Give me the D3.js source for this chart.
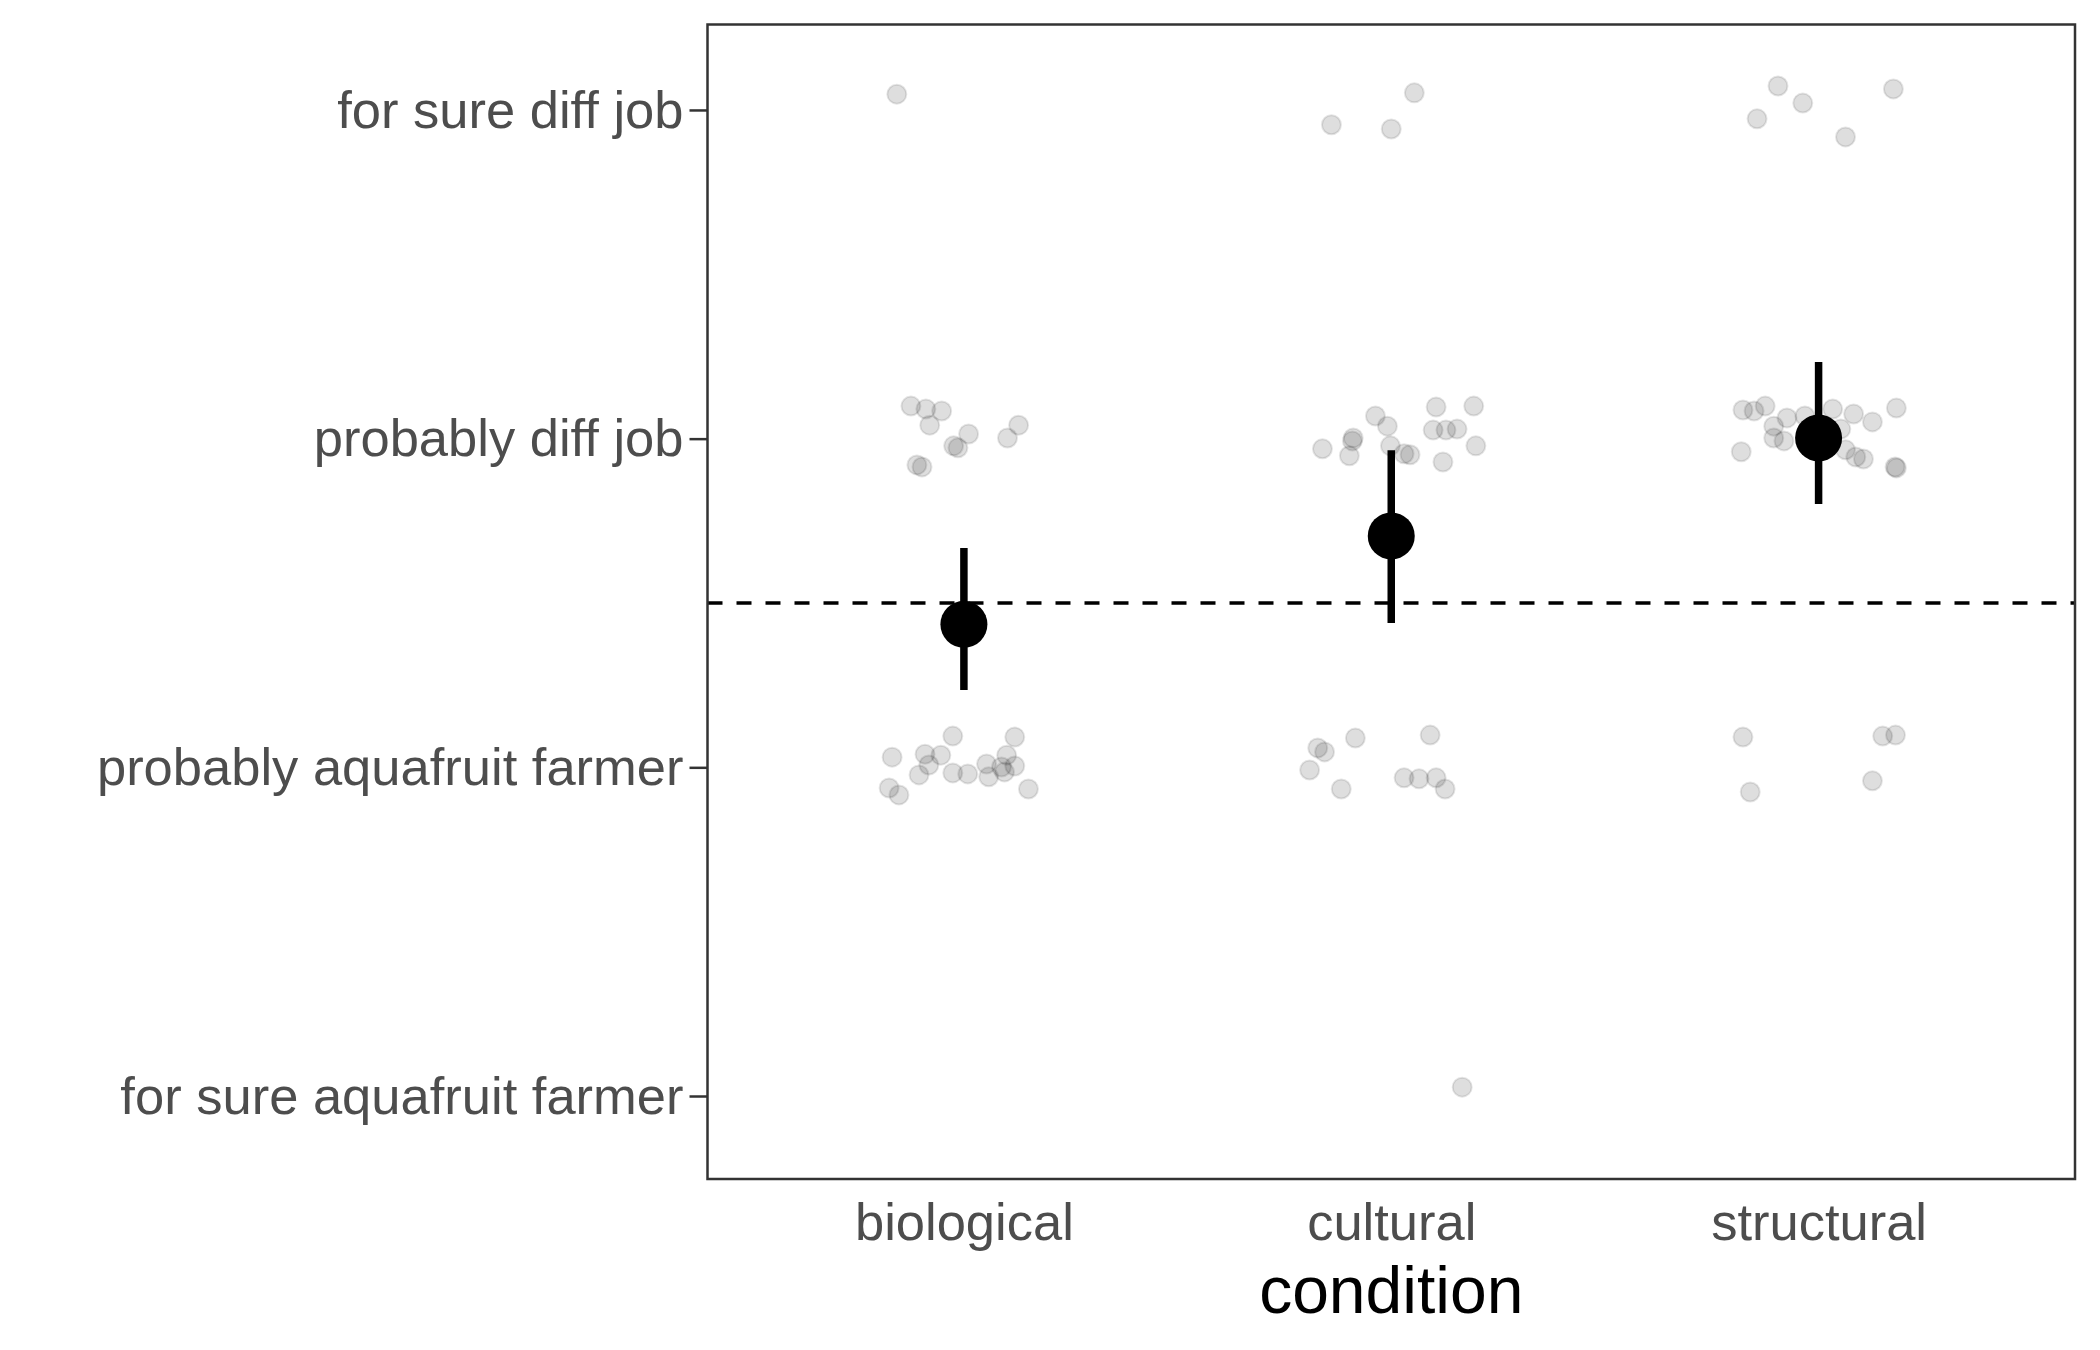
<!DOCTYPE html>
<html lang="en">
<head>
<meta charset="utf-8">
<script src="https://cdn.jsdelivr.net/npm/d3@7"></script>
<style type="text/css">
body {
	margin: 0;
	background: white;
}
text {
	font-family: "Liberation Sans", Arial, sans-serif;
}
</style>
</head>
<body>
<script type="text/javascript">

// categories on x, answer levels on y (1 = bottom)
var conditions = ["biological", "cultural", "structural"];
var levelLabels = ["for sure aquafruit farmer", "probably aquafruit farmer", "probably diff job", "for sure diff job"];
var levelValues = [1, 2, 3, 4];

// mean and interval per condition
var meanValues = [2.435, 2.704, 3.002];
var ciLow = [2.235, 2.439, 2.801];
var ciHigh = [2.667, 2.965, 3.233];
var chanceLevel = 2.5;

// jittered raw answers: [x offset in steps, value]
var bioPoints = [
	[-0.157, 4.048],
	[-0.124, 3.099], [-0.089, 3.090], [-0.052, 3.084], [-0.080, 3.041], [0.011, 3.014], [-0.024, 2.978],
	[-0.014, 2.972], [0.128, 3.041], [0.102, 3.002], [-0.110, 2.920], [-0.098, 2.914],
	[-0.168, 2.031], [-0.091, 2.040], [-0.054, 2.037], [-0.026, 2.095], [-0.082, 2.007], [-0.105, 1.977],
	[-0.175, 1.937], [-0.152, 1.916], [-0.026, 1.983], [0.009, 1.980], [0.053, 2.010], [0.058, 1.971],
	[0.100, 2.037], [0.119, 2.092], [0.088, 2.001], [0.095, 1.986], [0.119, 2.004], [0.151, 1.934]
];
var culturalPoints = [
	[-0.140, 3.955], [0.000, 3.942], [0.054, 4.052],
	[-0.161, 2.969], [-0.098, 2.948], [-0.089, 3.002], [-0.091, 2.993], [-0.037, 3.069], [-0.009, 3.038],
	[-0.002, 2.978], [0.030, 2.954], [0.044, 2.951], [0.105, 3.096], [0.193, 3.099], [0.098, 3.026],
	[0.128, 3.026], [0.154, 3.029], [0.198, 2.978], [0.121, 2.929],
	[-0.172, 2.059], [-0.156, 2.047], [-0.191, 1.992], [-0.084, 2.089], [-0.117, 1.934], [0.091, 2.098],
	[0.030, 1.968], [0.065, 1.965], [0.105, 1.968], [0.126, 1.934],
	[0.166, 1.027]
];
var structuralPoints = [
	[-0.095, 4.073], [-0.037, 4.021], [-0.144, 3.973], [0.063, 3.918], [0.175, 4.064],
	[-0.177, 3.087], [-0.151, 3.084], [-0.125, 3.099], [-0.105, 3.038], [-0.074, 3.063], [-0.032, 3.069],
	[-0.105, 3.002], [-0.081, 2.993], [-0.181, 2.960], [0.033, 3.090], [0.052, 3.029], [0.082, 3.075],
	[0.126, 3.051], [0.182, 3.093], [0.063, 2.966], [0.087, 2.944], [0.105, 2.938], [0.179, 2.914],
	[0.182, 2.911],
	[-0.177, 2.092], [-0.160, 1.925], [0.150, 2.095], [0.180, 2.098], [0.126, 1.959]
];

var width = 2100;
var height = 1350;
var panel = {left: 707.5, right: 2075, top: 24.5, bottom: 1179};

var svg = d3.select("body")
	.append("svg")
	.attr("width", width)
	.attr("height", height);

var x = d3.scalePoint()
	.domain(conditions)
	.range([panel.left, panel.right])
	.padding(0.6);

var y = d3.scaleLinear()
	.domain([0.7475, 4.26])
	.range([panel.bottom, panel.top]);

// raw points, one group per condition
var allPoints = [];
[bioPoints, culturalPoints, structuralPoints].forEach(function(pts, i) {
	pts.forEach(function(p) {
		allPoints.push({cond: conditions[i], dx: p[0], v: p[1]});
	});
});

svg.append("g")
	.selectAll("circle")
	.data(allPoints)
	.enter()
	.append("circle")
	.attr("cx", d => x(d.cond) + d.dx * x.step())
	.attr("cy", d => y(d.v))
	.attr("r", 9.5)
	.style("fill", "black")
	.style("fill-opacity", 0.13)
	.style("stroke", "black")
	.style("stroke-opacity", 0.1)
	.style("stroke-width", 2);

// chance line
svg.append("line")
	.attr("x1", panel.left)
	.attr("x2", panel.right)
	.attr("y1", y(chanceLevel))
	.attr("y2", y(chanceLevel))
	.style("stroke", "black")
	.style("stroke-width", 3.5)
	.style("stroke-dasharray", "15,14");

// error bars + means
var summary = conditions.map(function(c, i) {
	return {cond: c, mean: meanValues[i], lo: ciLow[i], hi: ciHigh[i]};
});

svg.append("g")
	.selectAll("line")
	.data(summary)
	.enter()
	.append("line")
	.attr("x1", d => x(d.cond))
	.attr("x2", d => x(d.cond))
	.attr("y1", d => y(d.lo))
	.attr("y2", d => y(d.hi))
	.style("stroke", "black")
	.style("stroke-width", 7.5);

svg.append("g")
	.selectAll("circle")
	.data(summary)
	.enter()
	.append("circle")
	.attr("cx", d => x(d.cond))
	.attr("cy", d => y(d.mean))
	.attr("r", 23.5)
	.style("fill", "black");

// y axis
var yAxis = svg.append("g")
	.attr("transform", "translate(" + panel.left + ",0)")
	.call(d3.axisLeft(y)
		.tickValues(levelValues)
		.tickFormat((d, i) => levelLabels[i])
		.tickSize(18)
		.tickPadding(6));
yAxis.select(".domain").remove();
yAxis.selectAll("line").style("stroke", "#333333").style("stroke-width", 2.5);
yAxis.selectAll("text")
	.attr("dy", "0.33em")
	.style("font-size", "52.5px")
	.style("fill", "#4d4d4d");

// x axis, labels only
var xAxis = svg.append("g")
	.attr("transform", "translate(0," + panel.bottom + ")")
	.call(d3.axisBottom(x).tickSize(0).tickPadding(0));
xAxis.select(".domain").remove();
xAxis.selectAll("text")
	.attr("y", 61)
	.attr("dy", 0)
	.style("font-size", "52.5px")
	.style("fill", "#4d4d4d");

svg.append("text")
	.attr("x", (panel.left + panel.right) / 2)
	.attr("y", 1313)
	.attr("text-anchor", "middle")
	.style("font-size", "66px")
	.style("fill", "black")
	.text("condition");

// panel border
svg.append("rect")
	.attr("x", panel.left)
	.attr("y", panel.top)
	.attr("width", panel.right - panel.left)
	.attr("height", panel.bottom - panel.top)
	.style("fill", "none")
	.style("stroke", "#333333")
	.style("stroke-width", 2.5);

</script>
</body>
</html>
